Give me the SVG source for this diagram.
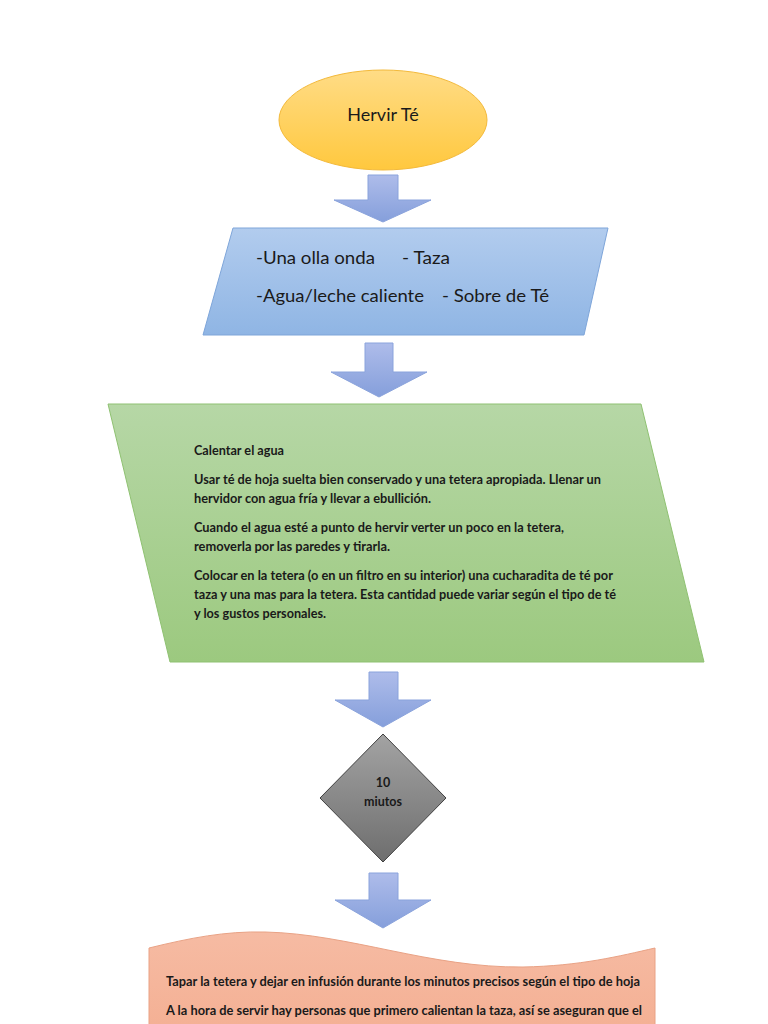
<svg xmlns="http://www.w3.org/2000/svg" width="768" height="1024" viewBox="0 0 768 1024">
<defs>
<linearGradient id="gOrange" x1="0" y1="0" x2="0" y2="1"><stop offset="0" stop-color="#ffdc86"/><stop offset="1" stop-color="#ffc83e"/></linearGradient>
<linearGradient id="gBlue" x1="0" y1="0" x2="0" y2="1"><stop offset="0" stop-color="#b2ccee"/><stop offset="1" stop-color="#8fb5e4"/></linearGradient>
<linearGradient id="gGreen" x1="0" y1="0" x2="0" y2="1"><stop offset="0" stop-color="#b6d7a6"/><stop offset="1" stop-color="#9cc97f"/></linearGradient>
<linearGradient id="gArrow" x1="0" y1="0" x2="0" y2="1"><stop offset="0" stop-color="#aebcea"/><stop offset="1" stop-color="#859fdb"/></linearGradient>
<linearGradient id="gGray" x1="0" y1="0" x2="0" y2="1"><stop offset="0" stop-color="#a3a3a3"/><stop offset="1" stop-color="#6e6e6e"/></linearGradient>
<linearGradient id="gSalmon" x1="0" y1="0" x2="0" y2="1"><stop offset="0" stop-color="#f6bba3"/><stop offset="1" stop-color="#f4b094"/></linearGradient>
</defs>
<style>
.arrow{fill:url(#gArrow);stroke:#8aa3dc;stroke-width:1}
.big{font-family:Lato,"Open Sans","Liberation Sans",sans-serif;font-size:18px;fill:#1a1a1a}
.sm{font-family:Lato,"Open Sans","Liberation Sans",sans-serif;font-size:12.5px;font-weight:bold;fill:#1a1a1a}
</style>
<rect width="768" height="1024" fill="#ffffff"/>
<g id="connectors">
<path class="arrow" d="M368,175 H398 V200 H431 L383,222 L334,200 H368 Z"/>
<path class="arrow" d="M365,343 H393 V372 H427 L379,397 L331,372 H365 Z"/>
<path class="arrow" d="M369,672 H398 V700 H431 L383,727 L335,700 H369 Z"/>
<path class="arrow" d="M369,873 H398 V900 H431 L383,928 L335,900 H369 Z"/>
</g>
<g id="start">
<ellipse cx="383" cy="120" rx="104" ry="50" fill="url(#gOrange)" stroke="#f3b93a" stroke-width="1"/>
<text class="big" x="383" y="121" text-anchor="middle">Hervir Té</text>
</g>
<g id="materials">
<polygon points="233,228 608,228 584,335 203,335" fill="url(#gBlue)" stroke="#7ea5d9" stroke-width="1"/>
<text class="big" x="256" y="264" textLength="119" lengthAdjust="spacingAndGlyphs">-Una olla onda</text>
<text class="big" x="402" y="264" textLength="48" lengthAdjust="spacingAndGlyphs">- Taza</text>
<text class="big" x="256" y="302" textLength="168" lengthAdjust="spacingAndGlyphs">-Agua/leche caliente</text>
<text class="big" x="442" y="302" textLength="107" lengthAdjust="spacingAndGlyphs">- Sobre de Té</text>
</g>
<g id="heat">
<polygon points="108,404 641,404 704,662 170,662" fill="url(#gGreen)" stroke="#8fc172" stroke-width="1"/>
<text class="sm" x="194" y="455" textLength="90" lengthAdjust="spacingAndGlyphs">Calentar el agua</text>
<text class="sm" x="194" y="484" textLength="407" lengthAdjust="spacingAndGlyphs">Usar té de hoja suelta bien conservado y una tetera apropiada. Llenar un</text>
<text class="sm" x="194" y="503" textLength="237" lengthAdjust="spacingAndGlyphs">hervidor con agua fría y llevar a ebullición.</text>
<text class="sm" x="194" y="532" textLength="370" lengthAdjust="spacingAndGlyphs">Cuando el agua esté a punto de hervir verter un poco en la tetera,</text>
<text class="sm" x="194" y="551" textLength="196" lengthAdjust="spacingAndGlyphs">removerla por las paredes y tirarla.</text>
<text class="sm" x="194" y="580" textLength="419" lengthAdjust="spacingAndGlyphs">Colocar en la tetera (o en un filtro en su interior) una cucharadita de té por</text>
<text class="sm" x="194" y="599" textLength="422" lengthAdjust="spacingAndGlyphs">taza y una mas para la tetera. Esta cantidad puede variar según el tipo de té</text>
<text class="sm" x="194" y="618" textLength="132" lengthAdjust="spacingAndGlyphs">y los gustos personales.</text>
</g>
<g id="wait">
<polygon points="383,734 446,798 383,862 320,798" fill="url(#gGray)" stroke="#404040" stroke-width="1"/>
<text class="sm" x="383" y="787" text-anchor="middle">10</text>
<text class="sm" x="383" y="806" text-anchor="middle">miutos</text>
</g>
<g id="infuse">
<path d="M149,948 C190,938 225,931 265,932 C350,934 430,968 523,967 C580,966 620,956 655,948 V1030 H149 Z" fill="url(#gSalmon)" stroke="#e9a285" stroke-width="1"/>
<text class="sm" x="166" y="986" textLength="474" lengthAdjust="spacingAndGlyphs">Tapar la tetera y dejar en infusión durante los minutos precisos según el tipo de hoja</text>
<text class="sm" x="166" y="1015" textLength="476" lengthAdjust="spacingAndGlyphs">A la hora de servir hay personas que primero calientan la taza, así se aseguran que el</text>
</g>
</svg>
